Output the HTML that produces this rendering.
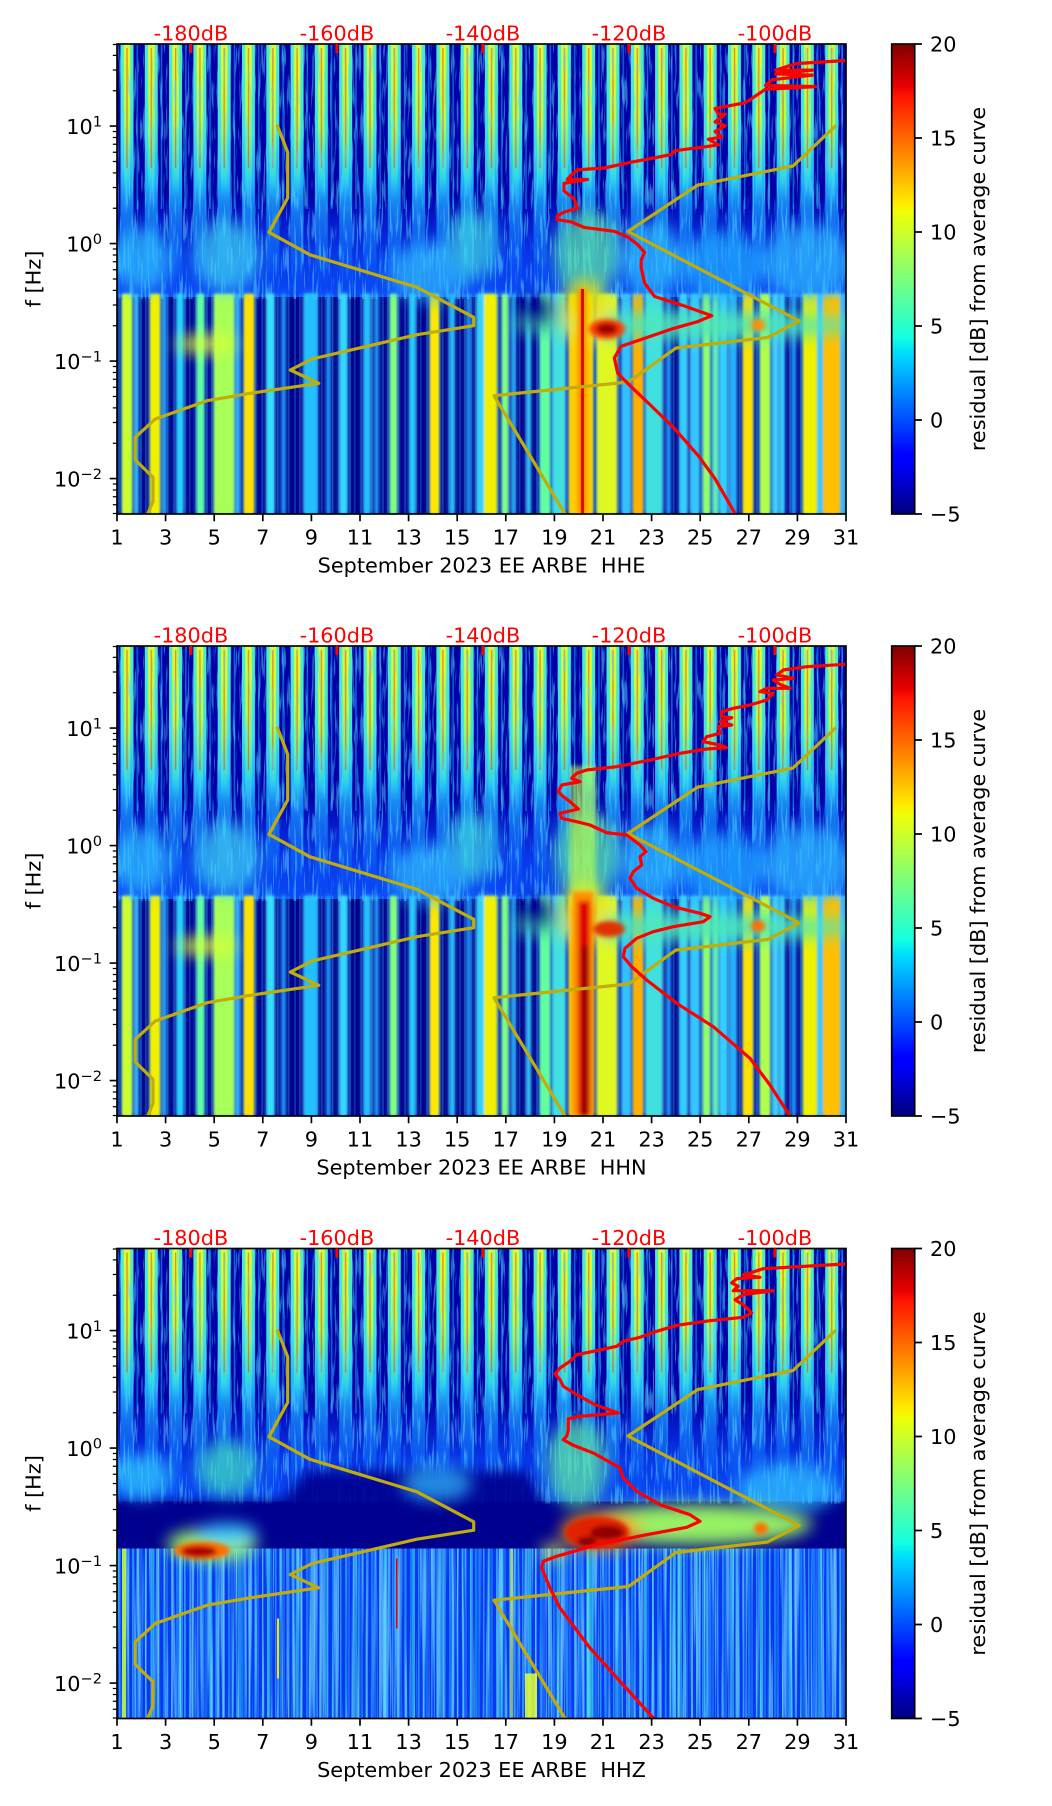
<!DOCTYPE html>
<html><head><meta charset="utf-8"><style>html,body{margin:0;padding:0;background:#fff}svg{display:block}</style></head>
<body>
<svg xmlns="http://www.w3.org/2000/svg" width="1052" height="1806" viewBox="0 0 1052 1806" font-family="'DejaVu Sans','Liberation Sans',sans-serif" font-size="20.8">
<defs>
<linearGradient id="jet" x1="0" y1="0" x2="0" y2="1">
<stop offset="0" stop-color="#800000"/><stop offset="0.09" stop-color="#e80000"/><stop offset="0.11" stop-color="#ff1300"/><stop offset="0.34" stop-color="#ffec00"/><stop offset="0.36" stop-color="#eeff08"/><stop offset="0.5" stop-color="#7bff7b"/><stop offset="0.625" stop-color="#14ffe2"/><stop offset="0.65" stop-color="#00e6f7"/><stop offset="0.66" stop-color="#00dbff"/><stop offset="0.875" stop-color="#0000ff"/><stop offset="0.89" stop-color="#0000ff"/><stop offset="1" stop-color="#000080"/>
</linearGradient>
<linearGradient id="g1" gradientUnits="userSpaceOnUse" x1="0" y1="0" x2="0" y2="252">
<stop offset="0" stop-color="#50f0c0"/><stop offset="0.35" stop-color="#40e0e0"/><stop offset="0.55" stop-color="#20b8ff" stop-opacity="0.95"/><stop offset="0.7" stop-color="#1890ff" stop-opacity="0.7"/><stop offset="0.85" stop-color="#1070ff" stop-opacity="0.5"/><stop offset="1" stop-color="#0050ff" stop-opacity="0"/>
</linearGradient>
<linearGradient id="g2" gradientUnits="userSpaceOnUse" x1="0" y1="0" x2="0" y2="155">
<stop offset="0" stop-color="#e0ff30"/><stop offset="0.5" stop-color="#b0ff50"/><stop offset="0.85" stop-color="#40f0d0" stop-opacity="0.6"/><stop offset="1" stop-color="#30d0ff" stop-opacity="0"/>
</linearGradient>
<linearGradient id="mid" x1="0" y1="0" x2="0" y2="1">
<stop offset="0" stop-color="#0000a6"/><stop offset="0.25" stop-color="#0418c8"/><stop offset="0.6" stop-color="#0838e8"/><stop offset="1" stop-color="#0a48f5"/>
</linearGradient>
<pattern id="stp" patternUnits="userSpaceOnUse" x="0" y="0" width="24.3" height="470">
<rect x="3.5" y="0" width="13" height="252" fill="url(#g1)"/>
<rect x="6.8" y="0" width="6.5" height="155" fill="url(#g2)"/>
<rect x="9.3" y="4" width="1.4" height="120" fill="#ff2000" opacity="0.5"/>
<rect x="19.5" y="0" width="1.5" height="165" fill="#20b0ff" opacity="0.55"/>
</pattern>
<pattern id="stk" patternUnits="userSpaceOnUse" x="0" y="0" width="13" height="470">
<rect x="2" y="0" width="1.5" height="470" fill="#30c8ff" opacity="0.6"/>
<rect x="7" y="0" width="2.5" height="470" fill="#1890ff" opacity="0.7"/>
<rect x="10.5" y="0" width="1" height="470" fill="#50e0ff" opacity="0.5"/>
</pattern>
<pattern id="stk2" patternUnits="userSpaceOnUse" x="0" y="0" width="29" height="470">
<rect x="5" y="0" width="3" height="470" fill="#40e8e0" opacity="0.45"/>
</pattern>
<pattern id="stk3" patternUnits="userSpaceOnUse" x="0" y="0" width="11" height="470">
<rect x="1" y="0" width="2" height="470" fill="#1aa0ff" opacity="0.3"/>
<rect x="6" y="0" width="1.5" height="470" fill="#30d0ff" opacity="0.25"/>
</pattern>
<filter id="nz" x="0" y="0" width="1" height="1">
<feTurbulence type="fractalNoise" baseFrequency="0.45 0.03" numOctaves="2" seed="7"/>
<feColorMatrix type="matrix" values="0 0 0 0 0.1  0 0 0 0 0.7  0 0 0 0 1  0 0 0 7 -3.8"/>
</filter>
<filter id="nz2" x="0" y="0" width="1" height="1">
<feTurbulence type="fractalNoise" baseFrequency="0.35 0.004" numOctaves="2" seed="3"/>
<feColorMatrix type="matrix" values="0 0 0 0 0.2  0 0 0 0 0.8  0 0 0 0 1  0 0 0 6 -2.9"/>
</filter>
<filter id="halo" x="-5%" y="-5%" width="110%" height="110%">
<feGaussianBlur stdDeviation="3"/>
<feColorMatrix type="matrix" values="0 0 0 0 0.1  0 0 0 0 0.7  0 0 0 0 1  0 0 0 0.9 0"/>
</filter>
<filter id="bl" x="-50%" y="-50%" width="200%" height="200%"><feGaussianBlur stdDeviation="8"/></filter>
<filter id="bl6" x="-20%" y="-20%" width="140%" height="140%"><feGaussianBlur stdDeviation="6"/></filter>
<filter id="bl2" x="-50%" y="-50%" width="200%" height="200%"><feGaussianBlur stdDeviation="2.5"/></filter>
<filter id="bl1" x="-10%" y="-10%" width="120%" height="120%"><feGaussianBlur stdDeviation="1"/></filter>
<clipPath id="clip"><rect x="0" y="0" width="729" height="470"/></clipPath>

<g id="base">
<rect width="729" height="470" fill="#00008c"/>
<rect width="729" height="175" fill="#0000a6"/>
<rect y="150" width="729" height="103" fill="url(#mid)"/>
<rect width="729" height="255" fill="url(#stp)"/>
</g>

<g id="lo12">
<rect x="5" y="250" width="10" height="220" fill="#c8ff30"/>
<rect x="18" y="250" width="3" height="220" fill="#30c0ff"/>
<rect x="33" y="250" width="10" height="220" fill="#f0f000"/>
<rect x="46" y="250" width="3" height="220" fill="#20a0ff"/>
<rect x="60" y="250" width="6" height="220" fill="#20d0ff"/>
<rect x="80" y="250" width="7" height="220" fill="#60ffa0"/>
<rect x="97" y="250" width="20" height="220" fill="#a8ff58"/>
<rect x="119" y="250" width="3" height="220" fill="#30c0ff"/>
<rect x="127" y="250" width="10" height="220" fill="#ffe000"/>
<rect x="150" y="250" width="7" height="220" fill="#30e0ff"/>
<rect x="165" y="250" width="3" height="220" fill="#1890ff"/>
<rect x="187" y="250" width="13" height="220" fill="#20c0ff"/>
<rect x="210" y="250" width="3" height="220" fill="#1890ff"/>
<rect x="223" y="250" width="7" height="220" fill="#30d8ff"/>
<rect x="247" y="250" width="6" height="220" fill="#20c0ff"/>
<rect x="258" y="250" width="3" height="220" fill="#1890ff"/>
<rect x="273" y="250" width="7" height="220" fill="#80ff80"/>
<rect x="293" y="250" width="5" height="220" fill="#20d0ff"/>
<rect x="313" y="250" width="9" height="220" fill="#ffe800"/>
<rect x="333" y="250" width="4" height="220" fill="#20c0ff"/>
<rect x="350" y="250" width="3" height="220" fill="#1890ff"/>
<rect x="360" y="250" width="8" height="220" fill="#30d0ff"/>
<rect x="367" y="250" width="13" height="220" fill="#f0f000"/>
<rect x="385" y="250" width="6" height="220" fill="#80ff80"/>
<rect x="395" y="250" width="3" height="220" fill="#20b0ff"/>
<rect x="410" y="250" width="3" height="220" fill="#30d0ff"/>
<rect x="423" y="250" width="10" height="220" fill="#60ffa0"/>
<rect x="436" y="250" width="12" height="220" fill="#40e0e0"/>
<rect x="452" y="250" width="24" height="220" fill="#ffd000"/>
<rect x="480" y="250" width="20" height="220" fill="#e0f820"/>
<rect x="505" y="250" width="8" height="220" fill="#30c0ff"/>
<rect x="516" y="250" width="10" height="220" fill="#ffb000"/>
<rect x="529" y="250" width="16" height="220" fill="#40e0e0"/>
<rect x="550" y="250" width="3" height="220" fill="#1890ff"/>
<rect x="563" y="250" width="7" height="220" fill="#30d0ff"/>
<rect x="574" y="250" width="8" height="220" fill="#30c8ff"/>
<rect x="586" y="250" width="7" height="220" fill="#90ff70"/>
<rect x="596" y="250" width="5" height="220" fill="#60f0b0"/>
<rect x="603" y="250" width="7" height="220" fill="#30d0ff"/>
<rect x="613" y="250" width="6" height="220" fill="#20b0ff"/>
<rect x="626" y="250" width="10" height="220" fill="#ffe000"/>
<rect x="643" y="250" width="10" height="220" fill="#b0ff50"/>
<rect x="656" y="250" width="5" height="220" fill="#40d0ff"/>
<rect x="663" y="250" width="4" height="220" fill="#30d0ff"/>
<rect x="675" y="250" width="3" height="220" fill="#1890ff"/>
<rect x="686" y="250" width="14" height="220" fill="#f0f000"/>
<rect x="701" y="250" width="4" height="220" fill="#30d0ff"/>
<rect x="706" y="250" width="17" height="220" fill="#ffc000"/>
<rect x="724" y="250" width="4" height="220" fill="#30c0ff"/>
</g>

<g id="cl12">
<g filter="url(#bl)" opacity="0.68">
<ellipse cx="25" cy="215" rx="30" ry="32" fill="#30c8ff"/>
<ellipse cx="110" cy="212" rx="32" ry="36" fill="#40d8f0"/>
<ellipse cx="312" cy="228" rx="40" ry="30" fill="#30c0ff"/>
<ellipse cx="355" cy="200" rx="24" ry="35" fill="#40e0e0"/>
<ellipse cx="470" cy="210" rx="32" ry="45" fill="#60f0a0"/>
<ellipse cx="535" cy="215" rx="30" ry="38" fill="#30c8ff"/>
<ellipse cx="605" cy="222" rx="40" ry="35" fill="#20b0ff"/>
<ellipse cx="690" cy="218" rx="45" ry="38" fill="#30c0ff"/>
</g>
<g filter="url(#bl)" opacity="0.9">
<ellipse cx="570" cy="281" rx="175" ry="14" fill="#50e8b8"/>
<ellipse cx="89" cy="300" rx="30" ry="9" fill="#e0ff30"/>
<ellipse cx="468" cy="268" rx="22" ry="32" fill="#f0e000"/>
<ellipse cx="420" cy="268" rx="18" ry="16" fill="#00008c"/>
</g>
</g>

<g id="yel" fill="none" stroke="#c0ac0a" stroke-width="3.2" stroke-linejoin="round">
<polyline points="160,80.7 170.7,108.3 170.7,154 152,188.3 192.7,210.7 300,243.3 356.7,273.3 356.7,281.7 300,290.7 195,315 173.3,326 201.7,339.3 133.3,349.3 90,356.7 38.3,375 18.3,393.3 18.3,416 36,433.3 36,457.3 30.7,470 28,477"/>
<polyline points="719,81.5 676,122 580.5,141.2 511,187.5 682.3,277 650.5,293.5 559,304 511.5,338 377,351.7 448,470 452,477"/>
</g>

<g id="deco">
<rect width="729" height="470" fill="none" stroke="#000" stroke-width="1.67"/>
<path d="M0 470v7.3M48.6 470v7.3M97.2 470v7.3M145.8 470v7.3M194.4 470v7.3M243 470v7.3M291.6 470v7.3M340.2 470v7.3M388.8 470v7.3M437.4 470v7.3M486 470v7.3M534.6 470v7.3M583.2 470v7.3M631.8 470v7.3M680.4 470v7.3M729 470v7.3M-7.3 82.1h7.3M-7.3 199.6h7.3M-7.3 317.1h7.3M-7.3 434.6h7.3" stroke="#000" stroke-width="1.67" fill="none"/>
<path d="M-4.2 0.5h4.2M-4.2 11.4h4.2M-4.2 26h4.2M-4.2 46.7h4.2M-4.2 87.5h4.2M-4.2 93.5h4.2M-4.2 100.3h4.2M-4.2 108.2h4.2M-4.2 117.5h4.2M-4.2 128.9h4.2M-4.2 143.5h4.2M-4.2 164.2h4.2M-4.2 205h4.2M-4.2 211h4.2M-4.2 217.8h4.2M-4.2 225.7h4.2M-4.2 235h4.2M-4.2 246.4h4.2M-4.2 261h4.2M-4.2 281.7h4.2M-4.2 322.5h4.2M-4.2 328.5h4.2M-4.2 335.3h4.2M-4.2 343.2h4.2M-4.2 352.5h4.2M-4.2 363.9h4.2M-4.2 378.5h4.2M-4.2 399.2h4.2M-4.2 440h4.2M-4.2 446h4.2M-4.2 452.8h4.2M-4.2 460.7h4.2M-4.2 469.5h4.2" stroke="#000" stroke-width="1.25" fill="none"/>
<g text-anchor="middle" fill="#000">
<text x="0" y="500.5">1</text><text x="48.6" y="500.5">3</text><text x="97.2" y="500.5">5</text><text x="145.8" y="500.5">7</text><text x="194.4" y="500.5">9</text><text x="243" y="500.5">11</text><text x="291.6" y="500.5">13</text><text x="340.2" y="500.5">15</text><text x="388.8" y="500.5">17</text><text x="437.4" y="500.5">19</text><text x="486" y="500.5">21</text><text x="534.6" y="500.5">23</text><text x="583.2" y="500.5">25</text><text x="631.8" y="500.5">27</text><text x="680.4" y="500.5">29</text><text x="729" y="500.5">31</text>
</g>
<g text-anchor="end" fill="#000">
<text x="-15" y="90.1">10<tspan dy="-7.5" font-size="14.6">1</tspan></text>
<text x="-15" y="207.6">10<tspan dy="-7.5" font-size="14.6">0</tspan></text>
<text x="-15" y="325.1">10<tspan dy="-7.5" font-size="14.6">−1</tspan></text>
<text x="-15" y="442.6">10<tspan dy="-7.5" font-size="14.6">−2</tspan></text>
</g>
<text transform="translate(-76.5,235) rotate(-90)" text-anchor="middle" fill="#000">f [Hz]</text>
<path d="M73.9 0v9M219.9 0v9M365.9 0v9M511.9 0v9M657.9 0v9" stroke="#ff0000" stroke-width="3" fill="none"/>
<g text-anchor="middle" fill="#ff0000">
<text x="73.9" y="-3.5">-180dB</text><text x="219.9" y="-3.5">-160dB</text><text x="365.9" y="-3.5">-140dB</text><text x="511.9" y="-3.5">-120dB</text><text x="657.9" y="-3.5">-100dB</text>
</g>
<rect x="774.7" y="0" width="23" height="470" fill="url(#jet)" stroke="#000" stroke-width="1.67"/>
<path d="M797.7 0h7.3M797.7 94h7.3M797.7 188h7.3M797.7 282h7.3M797.7 376h7.3M797.7 470h7.3" stroke="#000" stroke-width="1.67" fill="none"/>
<g fill="#000">
<text x="813" y="7.6">20</text><text x="813" y="101.6">15</text><text x="813" y="195.6">10</text><text x="813" y="289.6">5</text><text x="813" y="383.6">0</text><text x="813" y="477.6">−5</text>
</g>
<text transform="translate(868,235) rotate(-90)" text-anchor="middle" fill="#000">residual [dB] from average curve</text>
</g>
</defs>

<rect width="1052" height="1806" fill="#fff"/>

<!-- Panel 1 HHE -->
<g transform="translate(117,44)">
<g clip-path="url(#clip)">
<use href="#base"/>
<rect y="250" width="729" height="220" fill="url(#stk3)"/>
<use href="#lo12" filter="url(#halo)"/>
<use href="#lo12" filter="url(#bl1)"/>
<rect width="729" height="255" filter="url(#nz)" opacity="0.5"/>
<use href="#cl12"/>
<g filter="url(#bl2)">
<rect x="461" y="245" width="8" height="225" fill="#ff8000"/>
<ellipse cx="490" cy="285" rx="18" ry="10" fill="#ff4000"/>
<ellipse cx="490" cy="285" rx="11" ry="6" fill="#a00000"/>
<ellipse cx="641" cy="281" rx="7" ry="6" fill="#ff9000"/>
</g>
<rect x="464" y="245" width="3" height="225" fill="#d81000"/>
<use href="#yel"/>
<polyline fill="none" stroke="#ff0000" stroke-width="3.2" stroke-linejoin="round" points="729.2,16.5 678.8,19.6 658.6,26.1 695.6,26.1 658.6,29.9 695.6,31.1 655.2,35.7 648.5,41.4 698.9,42.6 648.5,45.3 628.4,58.7 598.1,64.5 601.5,70.2 608.2,70.2 598.1,77.9 608.2,81.7 598.1,87.5 604.8,93.2 591.4,95.2 601.5,100.9 588,102.8 557.8,106.7 554.4,110.5 534.3,114.4 514.1,118.2 487.2,124 460.3,125.9 453.6,131.6 450.3,135.5 470.4,135.5 447,139.3 447,147 457,154.6 460.3,164.2 447,168.1 440.2,171.9 440.2,175.7 453.6,177.7 467.1,183.4 497.3,187.3 510.8,193 520.8,200.7 527.6,208.4 524.2,216 524.2,223.7 527.6,239.1 537.6,252.5 567.9,262.1 594.8,271.7 581.3,277.4 554.4,285.1 520.8,296.6 504,302.4 497.3,313.9 500.7,329.2 514.1,342.7 534.3,361.9 557.8,384.9 581.3,411.7 598.1,434.8 618.3,470 622,477"/>
</g>
<use href="#deco"/>
<text x="364.5" y="528.5" text-anchor="middle" fill="#000">September 2023 EE ARBE &#160;HHE</text>
</g>

<!-- Panel 2 HHN -->
<g transform="translate(117,646)">
<g clip-path="url(#clip)">
<use href="#base"/>
<rect y="250" width="729" height="220" fill="url(#stk3)"/>
<use href="#lo12" filter="url(#halo)"/>
<use href="#lo12" filter="url(#bl1)"/>
<rect width="729" height="255" filter="url(#nz)" opacity="0.5"/>
<use href="#cl12"/>
<g filter="url(#bl2)">
<rect x="453" y="120" width="26" height="140" fill="#c0ff40" opacity="0.6"/>
<rect x="455" y="245" width="22" height="225" fill="#ff9000"/>
<rect x="461" y="255" width="12" height="215" fill="#e00000"/>
<rect x="465" y="300" width="6" height="170" fill="#8c0000"/>
<ellipse cx="492" cy="283" rx="16" ry="8" fill="#e03000"/>
<ellipse cx="641" cy="280" rx="7" ry="6" fill="#ff7000"/>
</g>
<use href="#yel"/>
<polyline fill="none" stroke="#ff0000" stroke-width="3.2" stroke-linejoin="round" points="728,18.3 689.7,20.7 666.3,24 659.7,29 676.3,32.3 656.3,34 663,38.3 673,42.3 649.7,42.3 643,45.7 656.3,47.3 649.7,54 633,59 616.3,62.3 604.7,65.7 604.7,70.7 614.7,71.7 603,75.7 614.7,79 601.3,80.7 603,87.3 589.7,90.7 586.3,95.7 603,99 609.7,101.7 589.7,103 563,107.3 533,114 499.7,120.7 469.7,124 459.7,127.3 454.7,132.3 463,135.7 444.7,139 441.3,145.7 446.3,150.7 453,155.7 461.3,163 443,167.3 444.7,172.3 459.7,175.7 473,179 489.7,186.7 509.7,189 523,199 529,205.7 523,210.7 524.7,219 516.3,225.7 513,232.3 519.7,242.3 536.3,252.3 556.3,260.7 583,267.3 593,270.7 586.3,275.7 556.3,280.7 536.3,285.7 519.7,292.3 508,302.3 506.3,310.7 514.7,320.7 529.7,334 559.7,357.3 596.3,380.7 633,412.3 653,439 673,470 677,477"/>
</g>
<use href="#deco"/>
<text x="364.5" y="528.5" text-anchor="middle" fill="#000">September 2023 EE ARBE &#160;HHN</text>
</g>

<!-- Panel 3 HHZ -->
<g transform="translate(117,1248.5)">
<g clip-path="url(#clip)">
<use href="#base"/>
<rect width="729" height="255" filter="url(#nz)" opacity="0.5"/>
<g filter="url(#bl6)" opacity="0.92">
<path d="M-20 252L165 252L190 222L410 222L432 264L750 264L750 302L-20 302Z" fill="#000090"/>
</g>
<rect y="300" width="729" height="170" fill="#0838f0"/>
<rect y="300" width="729" height="170" fill="url(#stk)"/>
<rect y="300" width="729" height="170" fill="url(#stk2)"/>
<rect y="300" width="729" height="170" filter="url(#nz2)" opacity="0.6"/>
<rect x="5" y="300" width="4" height="170" fill="#d0ff30" opacity="0.8"/>
<rect x="160" y="370" width="2" height="60" fill="#ffe000"/>
<rect x="279" y="310" width="1.5" height="70" fill="#e00000"/>
<rect x="393" y="300" width="3" height="170" fill="#e0ff40" opacity="0.6"/>
<rect x="408" y="425" width="12" height="45" fill="#e8ff30" opacity="0.85"/>
<rect x="470" y="300" width="6" height="170" fill="#40e0e0" opacity="0.6"/>
<rect x="560" y="300" width="5" height="170" fill="#40e0e0" opacity="0.5"/>
<g filter="url(#bl)" opacity="0.7">
<ellipse cx="25" cy="228" rx="30" ry="22" fill="#30d0ff"/>
<ellipse cx="110" cy="220" rx="30" ry="28" fill="#40e0c0"/>
<ellipse cx="320" cy="235" rx="35" ry="18" fill="#30c0ff"/>
<ellipse cx="460" cy="215" rx="30" ry="45" fill="#60f0a0"/>
<ellipse cx="670" cy="240" rx="50" ry="25" fill="#30c8ff"/>
</g>
<g filter="url(#bl)" opacity="0.95">
<ellipse cx="95" cy="296" rx="45" ry="16" fill="#a0ff60"/>
<ellipse cx="110" cy="285" rx="30" ry="10" fill="#40d0ff"/>
<ellipse cx="575" cy="276" rx="120" ry="20" fill="#a0ff60"/>
<ellipse cx="484" cy="283" rx="40" ry="18" fill="#ffa000"/>
<ellipse cx="436" cy="303" rx="12" ry="7" fill="#e0f040"/>
</g>
<g filter="url(#bl2)">
<ellipse cx="85" cy="302" rx="28" ry="9" fill="#ff7000"/>
<ellipse cx="82" cy="303" rx="18" ry="6" fill="#b00000"/>
<ellipse cx="480" cy="284" rx="32" ry="16" fill="#e02000"/>
<ellipse cx="490" cy="284" rx="17" ry="7" fill="#900000"/>
<ellipse cx="470" cy="293" rx="10" ry="5" fill="#900000"/>
<ellipse cx="644" cy="280" rx="7" ry="6" fill="#ff7000"/>
</g>
<use href="#yel"/>
<polyline fill="none" stroke="#ff0000" stroke-width="3.2" stroke-linejoin="round" points="728,15.5 646.3,20.2 633,24.5 626.3,26.2 643,28.8 619.7,30.2 614.7,34.5 621.3,37.8 616.3,42.2 656.3,42.2 626.3,46.2 618,51.2 626.3,56.2 634.7,64.5 626.3,68.8 593,72.2 559.7,76.8 539.7,82.8 523,88.8 506.3,92.8 499.7,97.8 476.3,102.8 459.7,106.2 453,112.8 443,119.5 438,125.5 443,131.2 446.3,137.8 459.7,146.2 478,156.2 501.3,164.5 463,167.8 451.3,170.2 451.3,181.2 449.7,187.8 446.3,191.2 456.3,196.8 476.3,204.5 491.3,212.8 503,219.5 506.3,229.5 519.7,242.8 543,256.2 573,266.2 583,272.8 569.7,278.8 529.7,286.2 479.7,296.2 439.7,307.8 426.3,312.8 424.7,319.5 433,339.5 443,359.5 473,399.5 503,432.8 536.3,469.5 541,477"/>
</g>
<use href="#deco"/>
<text x="364.5" y="528.5" text-anchor="middle" fill="#000">September 2023 EE ARBE &#160;HHZ</text>
</g>
</svg>
</body></html>
